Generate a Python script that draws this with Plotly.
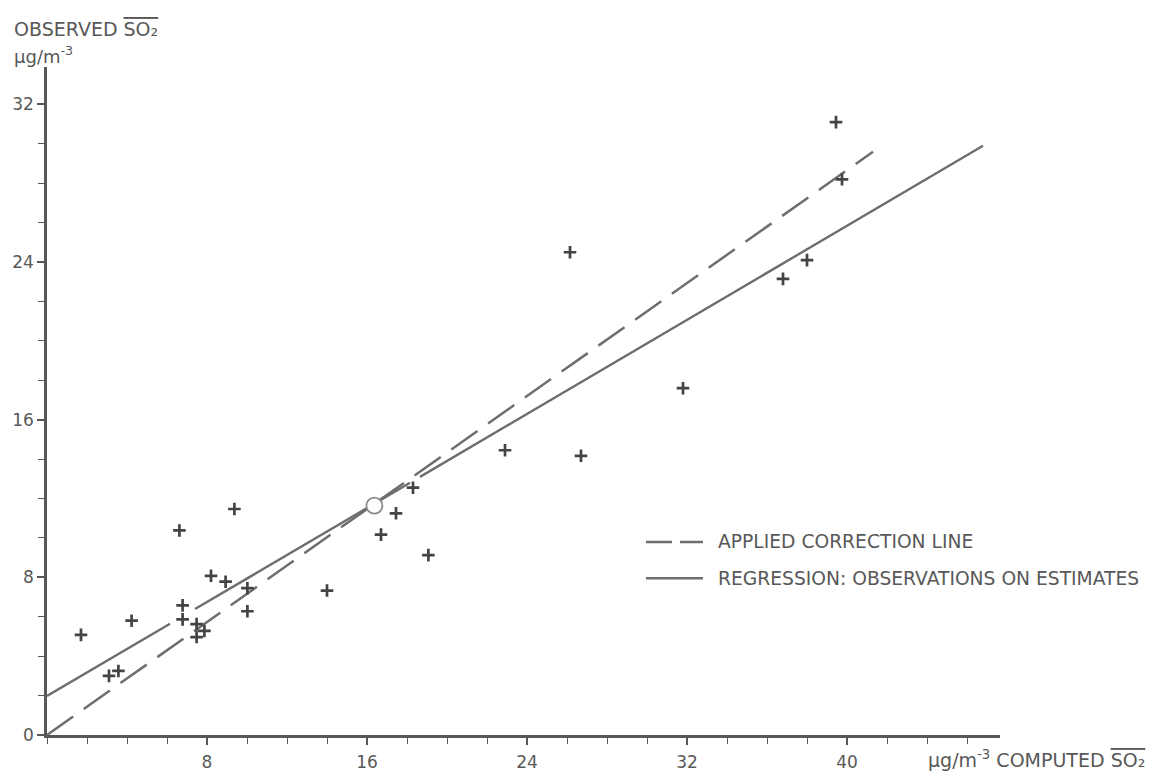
import plotly.graph_objects as go

# ---- data ----
obs_x = [1.7, 3.1, 3.57, 4.23, 6.62, 6.78, 6.78, 7.48, 7.48, 7.87, 8.2, 8.93, 9.37,
         10.02, 10.02, 14.0, 16.7, 17.45, 18.3, 19.07, 22.9, 26.15, 26.7, 31.8,
         36.8, 38.0, 39.45, 39.75]
obs_y = [5.08, 3.0, 3.25, 5.8, 10.38, 6.58, 5.87, 5.63, 4.97, 5.28, 8.08, 7.78, 11.47,
         7.45, 6.28, 7.33, 10.17, 11.25, 12.55, 9.13, 14.45, 24.5, 14.17, 17.6,
         23.15, 24.1, 31.1, 28.2]

mean_x = [16.37]
mean_y = [11.64]

# applied correction line (dashed)
corr_x = [0, 41.3]
corr_y = [0, 29.6]

# regression line (solid, drawn with small breaks as in the original)
reg_x = [0, 6.15, None, 7.4, 18.15, None, 18.65, 46.8]
reg_y = [1.98, 5.65, None, 6.39, 12.8, None, 13.1, 29.9]

x_ticks = [8, 16, 24, 32, 40]
y_ticks = [0, 8, 16, 24, 32]
x_range = [0, 47.65]
y_range = [0, 33.9]

legend_labels = ["APPLIED CORRECTION LINE", "REGRESSION: OBSERVATIONS ON ESTIMATES"]

INK = "#585858"
LINE = "#6e6e6e"
FONT = "DejaVu Sans"

fig = go.Figure()

fig.add_trace(go.Scatter(x=corr_x, y=corr_y, mode="lines",
                         line=dict(color=LINE, width=2.5, dash="32px,13px"),
                         showlegend=False, hoverinfo="skip"))
fig.add_trace(go.Scatter(x=reg_x, y=reg_y, mode="lines",
                         line=dict(color=LINE, width=2.4),
                         showlegend=False, hoverinfo="skip", connectgaps=False))
fig.add_trace(go.Scatter(x=obs_x, y=obs_y, mode="markers",
                         marker=dict(symbol="cross-thin", size=9, color="#444444",
                                     line=dict(color="#444444", width=2.7)),
                         showlegend=False))
fig.add_trace(go.Scatter(x=mean_x, y=mean_y, mode="markers",
                         marker=dict(symbol="circle", size=16, color="white",
                                     line=dict(color="#8a8a8a", width=1.8)),
                         showlegend=False))

axis_common = dict(showline=True, linecolor=INK, linewidth=2.5, showgrid=False,
                   zeroline=False, ticks="outside", ticklen=7, tickwidth=1.5,
                   tickcolor=INK, tickfont=dict(family=FONT, size=17, color=INK),
                   minor=dict(dtick=2, ticks="outside", ticklen=6, tickwidth=1.3,
                              tickcolor=INK, showgrid=False))

fig.update_xaxes(range=x_range, tickvals=x_ticks, ticktext=[str(v) for v in x_ticks],
                 ticklabelstandoff=3, **axis_common)
fig.update_yaxes(range=y_range, tickvals=y_ticks, ticktext=[str(v) for v in y_ticks],
                 **axis_common)

OVER = '<span style="text-decoration:overline">SO₂</span>'
annos = [
    dict(text="OBSERVED " + OVER, x=-0.0367, y=1.0575, xanchor="left", yanchor="middle", size=19),
    dict(text="µg/m<sup>-3</sup>", x=-0.0367, y=1.0177, xanchor="left", yanchor="middle", size=18),
    dict(text="µg/m<sup>-3</sup> COMPUTED " + OVER, x=0.922, y=-0.036,
         xanchor="left", yanchor="middle", size=19),
    dict(text=legend_labels[0], x=0.702, y=0.289, xanchor="left", yanchor="middle", size=18.7),
    dict(text=legend_labels[1], x=0.702, y=0.2345, xanchor="left", yanchor="middle", size=18.7),
]
for a in annos:
    sz = a.pop("size")
    fig.add_annotation(xref="paper", yref="paper", showarrow=False,
                       font=dict(family=FONT, size=sz, color=INK), **a)

fig.add_shape(type="line", xref="paper", yref="paper", x0=0.6285, x1=0.6884,
              y0=0.289, y1=0.289, line=dict(color=LINE, width=2.5, dash="26px,8px"))
fig.add_shape(type="line", xref="paper", yref="paper", x0=0.6285, x1=0.6884,
              y0=0.2345, y1=0.2345, line=dict(color=LINE, width=2.5))

fig.update_layout(width=1157, height=784, margin=dict(l=47, r=157, t=67, b=39),
                  paper_bgcolor="white", plot_bgcolor="white",
                  font=dict(family=FONT, color=INK))

# remove the default 8px page margin so the figure sits at the window origin
fig.write_html("out.html",
               config={"displayModeBar": False},
               post_script="document.body.style.margin='0';"
                           "document.body.style.overflow='hidden';")
